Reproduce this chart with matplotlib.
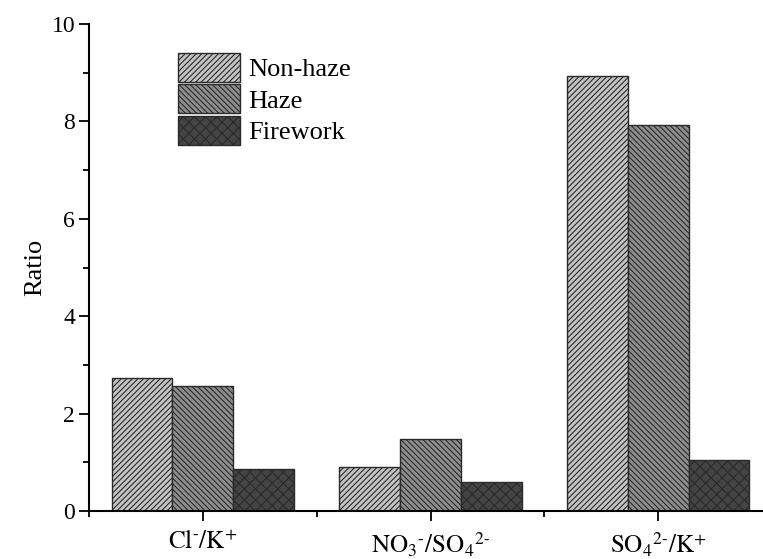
import numpy as np
import matplotlib
matplotlib.use("Agg")
import matplotlib.pyplot as plt

plt.rcParams['font.family'] = ['Liberation Serif', 'DejaVu Serif']
plt.rcParams['mathtext.fontset'] = 'stix'
plt.rcParams['hatch.linewidth'] = 0.8

categories = [r'$\mathrm{Cl}^{\text{-}}\mathrm{/K}^{+}$',
              r'$\mathrm{NO_3}^{\text{-}}\mathrm{/SO_4}^{2\text{-}}$',
              r'$\mathrm{SO_4}^{2\text{-}}\mathrm{/K}^{+}$']
series_names = ['Non-haze', 'Haze', 'Firework']
non_haze = [2.74, 0.91, 8.94]
haze = [2.57, 1.47, 7.93]
firework = [0.86, 0.59, 1.04]

colors = ['#c4c4c4', '#8e8e8e', '#444444']
hatches = ['//////', '\\\\\\\\\\\\', 'xxx']

fig = plt.figure(figsize=(7.63, 5.59), dpi=100)
ax = fig.add_axes([89/763, 48/559, 683/763, 487/559])

x = np.arange(len(categories))
w = 0.267
for i, (vals, name) in enumerate(zip([non_haze, haze, firework], series_names)):
    ax.bar(x + (i - 1) * w, vals, width=w, color=colors[i], edgecolor='#2a2a2a',
           hatch=hatches[i], linewidth=1.0, label=name)

ax.set_xlim(-0.5, 2.5)
ax.set_ylim(0, 10)
ax.set_xticks(x)
ax.set_xticklabels(categories, fontsize=18)
ax.set_xticks([-0.5, 0.5, 1.5, 2.5], minor=True)
ax.set_yticks([0, 2, 4, 6, 8, 10])
ax.set_yticks([1, 3, 5, 7, 9], minor=True)
ax.tick_params(axis='y', labelsize=17)
ax.tick_params(which='major', direction='out', length=7, width=1.3, pad=3)
ax.tick_params(axis='x', which='major', pad=7)
ax.tick_params(which='minor', direction='out', length=4, width=1.3)
ax.set_ylabel('Ratio', fontsize=19, labelpad=4)

ax.spines['top'].set_visible(False)
ax.spines['right'].set_visible(False)
ax.spines['left'].set_linewidth(1.5)
ax.spines['bottom'].set_linewidth(1.5)

ax.legend(loc='upper left', bbox_to_anchor=(178/763, 1 - 53/559),
          bbox_transform=fig.transFigure, frameon=False, fontsize=19,
          handlelength=2.35, handleheight=1.3, labelspacing=0.1,
          handletextpad=0.3, borderpad=0, borderaxespad=0)

fig.savefig('out.png', dpi=100)
